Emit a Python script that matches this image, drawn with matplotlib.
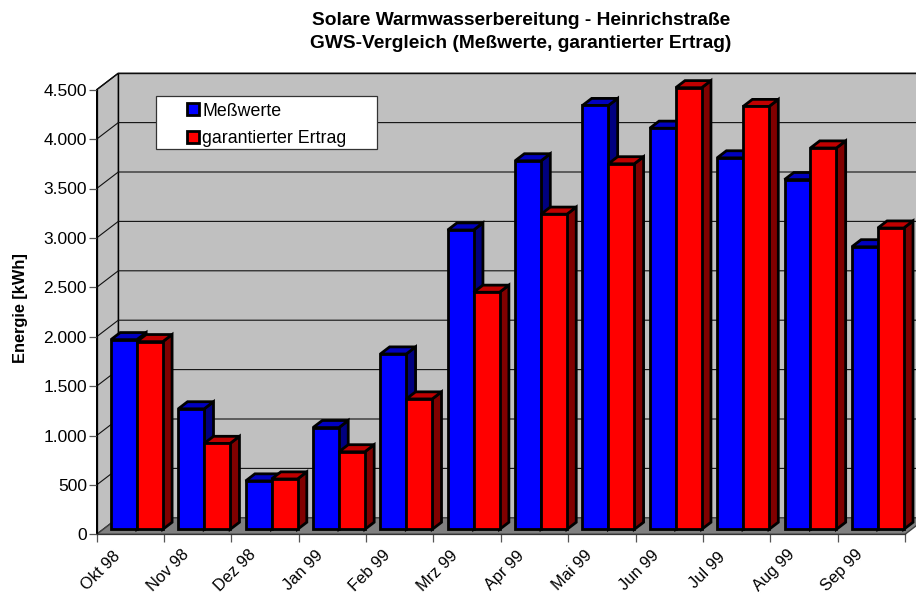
import matplotlib
matplotlib.use("Agg")
import matplotlib.pyplot as plt
from matplotlib.patches import Polygon, Rectangle, Patch
from matplotlib.ticker import FuncFormatter

plt.rcParams['font.family'] = ['Liberation Sans', 'DejaVu Sans']

months = ["Okt 98", "Nov 98", "Dez 98", "Jan 99", "Feb 99", "Mrz 99",
          "Apr 99", "Mai 99", "Jun 99", "Jul 99", "Aug 99", "Sep 99"]
messwerte = [1920, 1220, 490, 1030, 1775, 3030, 3730, 4290, 4060, 3760, 3540, 2860]
garantiert = [1900, 870, 510, 785, 1320, 2400, 3190, 3700, 4470, 4280, 3860, 3050]
yticks = [0, 500, 1000, 1500, 2000, 2500, 3000, 3500, 4000, 4500]

W, H = 916, 594
fig = plt.figure(figsize=(W / 100, H / 100), dpi=100, facecolor="white")
L, R, B, T = 96.7, 905.0, 534.3, 89.7
ax = fig.add_axes([L / W, (H - B) / H, (R - L) / W, (B - T) / H])
ax.set_xlim(0, 12)
ax.set_ylim(0, 4500)
for s in ax.spines.values():
    s.set_visible(False)
ax.patch.set_visible(False)

# oblique depth projection, in data units
DX = 21.6 / ((R - L) / 12)
DY = 16.5 / ((B - T) / 4500)


def P(x, y, d):
    return (x + d * DX, y + d * DY)


def poly(pts, fc, ec="black", lw=1.0, z=1):
    ax.add_patch(Polygon(pts, closed=True, facecolor=fc, edgecolor=ec, linewidth=lw,
                         joinstyle="miter", clip_on=False, zorder=z))


# walls and floor
poly([P(0, 0, 1), P(12, 0, 1), P(12, 4500, 1), P(0, 4500, 1)], "#c0c0c0", z=1)
poly([P(0, 0, 0), P(0, 0, 1), P(0, 4500, 1), P(0, 4500, 0)], "#c0c0c0", z=1)
poly([P(0, 0, 0), P(12, 0, 0), P(12, 0, 1), P(0, 0, 1)], "#808080", ec="#404040", z=1.5)

# gridlines on left and back walls
for v in yticks[1:]:
    a, b, c = P(0, v, 0), P(0, v, 1), P(12, v, 1)
    ax.plot([a[0], b[0], c[0]], [a[1], b[1], c[1]], color="#111111", lw=0.8,
            clip_on=False, zorder=2)

# 3D bars
D0, D1 = 0.30, 0.73
BW = 0.385
LW = 2.0
styles = [("#0000ff", "#0000c0", "#000080"), ("#ff0000", "#c00000", "#800000")]
for i in range(len(months)):
    for j, vals in enumerate((messwerte, garantiert)):
        v = vals[i]
        x0 = i + 0.5 + (j - 1) * BW
        x1 = x0 + BW
        front, top, side = styles[j]
        poly([P(x1, 0, D0), P(x1, 0, D1), P(x1, v, D1), P(x1, v, D0)], side, lw=LW, z=3)
        poly([P(x0, v, D0), P(x1, v, D0), P(x1, v, D1), P(x0, v, D1)], top, lw=LW, z=3)
        poly([P(x0, 0, D0), P(x1, 0, D0), P(x1, v, D0), P(x0, v, D0)], front, lw=LW, z=3)

# axes
ax.set_yticks(yticks)
ax.yaxis.set_major_formatter(FuncFormatter(lambda v, _: f"{int(v):,}".replace(",", ".")))
ax.set_xticks(range(13))
ax.set_xticklabels([])
ax.tick_params(axis="both", length=5.5, width=0.9, color="#555555", labelsize=12.5, pad=1.5)
ax.plot([0, 0], [0, 4500], color="black", lw=0.9, clip_on=False, zorder=2.5)
ax.plot([0, 12], [0, 0], color="#333333", lw=0.9, clip_on=False, zorder=2.5)

for i, m in enumerate(months):
    ax.annotate(m, xy=(i, 0), xytext=(4, -36.5), textcoords="offset pixels",
                rotation=45, ha="center", va="center", fontsize=11.8, annotation_clip=False)

ax.set_ylabel("Energie [kWh]", fontsize=11.8, fontweight="bold")
ax.yaxis.set_label_coords((28 - L) / (R - L), (B - 308) / (B - T))

fig.text(521 / W, 1 - 32 / H,
         "Solare Warmwasserbereitung - Heinrichstraße\nGWS-Vergleich (Meßwerte, garantierter Ertrag)",
         ha="center", va="center", fontsize=13.8, fontweight="bold", linespacing=1.45)

# legend
fig.add_artist(Rectangle((156.3 / W, 1 - 149.3 / H), 221 / W, 53 / H, transform=fig.transFigure,
                         facecolor="white", edgecolor="#333333", linewidth=0.9, zorder=5))
handles = [Patch(facecolor="#0000ff", edgecolor="black", linewidth=2.0),
           Patch(facecolor="#ff0000", edgecolor="black", linewidth=2.0)]
leg = fig.legend(handles, ["Meßwerte", "garantierter Ertrag"], loc="upper left",
                 bbox_to_anchor=(187 / W, 1 - 102.5 / H), borderaxespad=0, borderpad=0,
                 frameon=False, fontsize=12.8, handlelength=0.65, handleheight=0.65,
                 handletextpad=0.22, labelspacing=0.58)
leg.set_zorder(6)

fig.savefig("out.png", dpi=100)
